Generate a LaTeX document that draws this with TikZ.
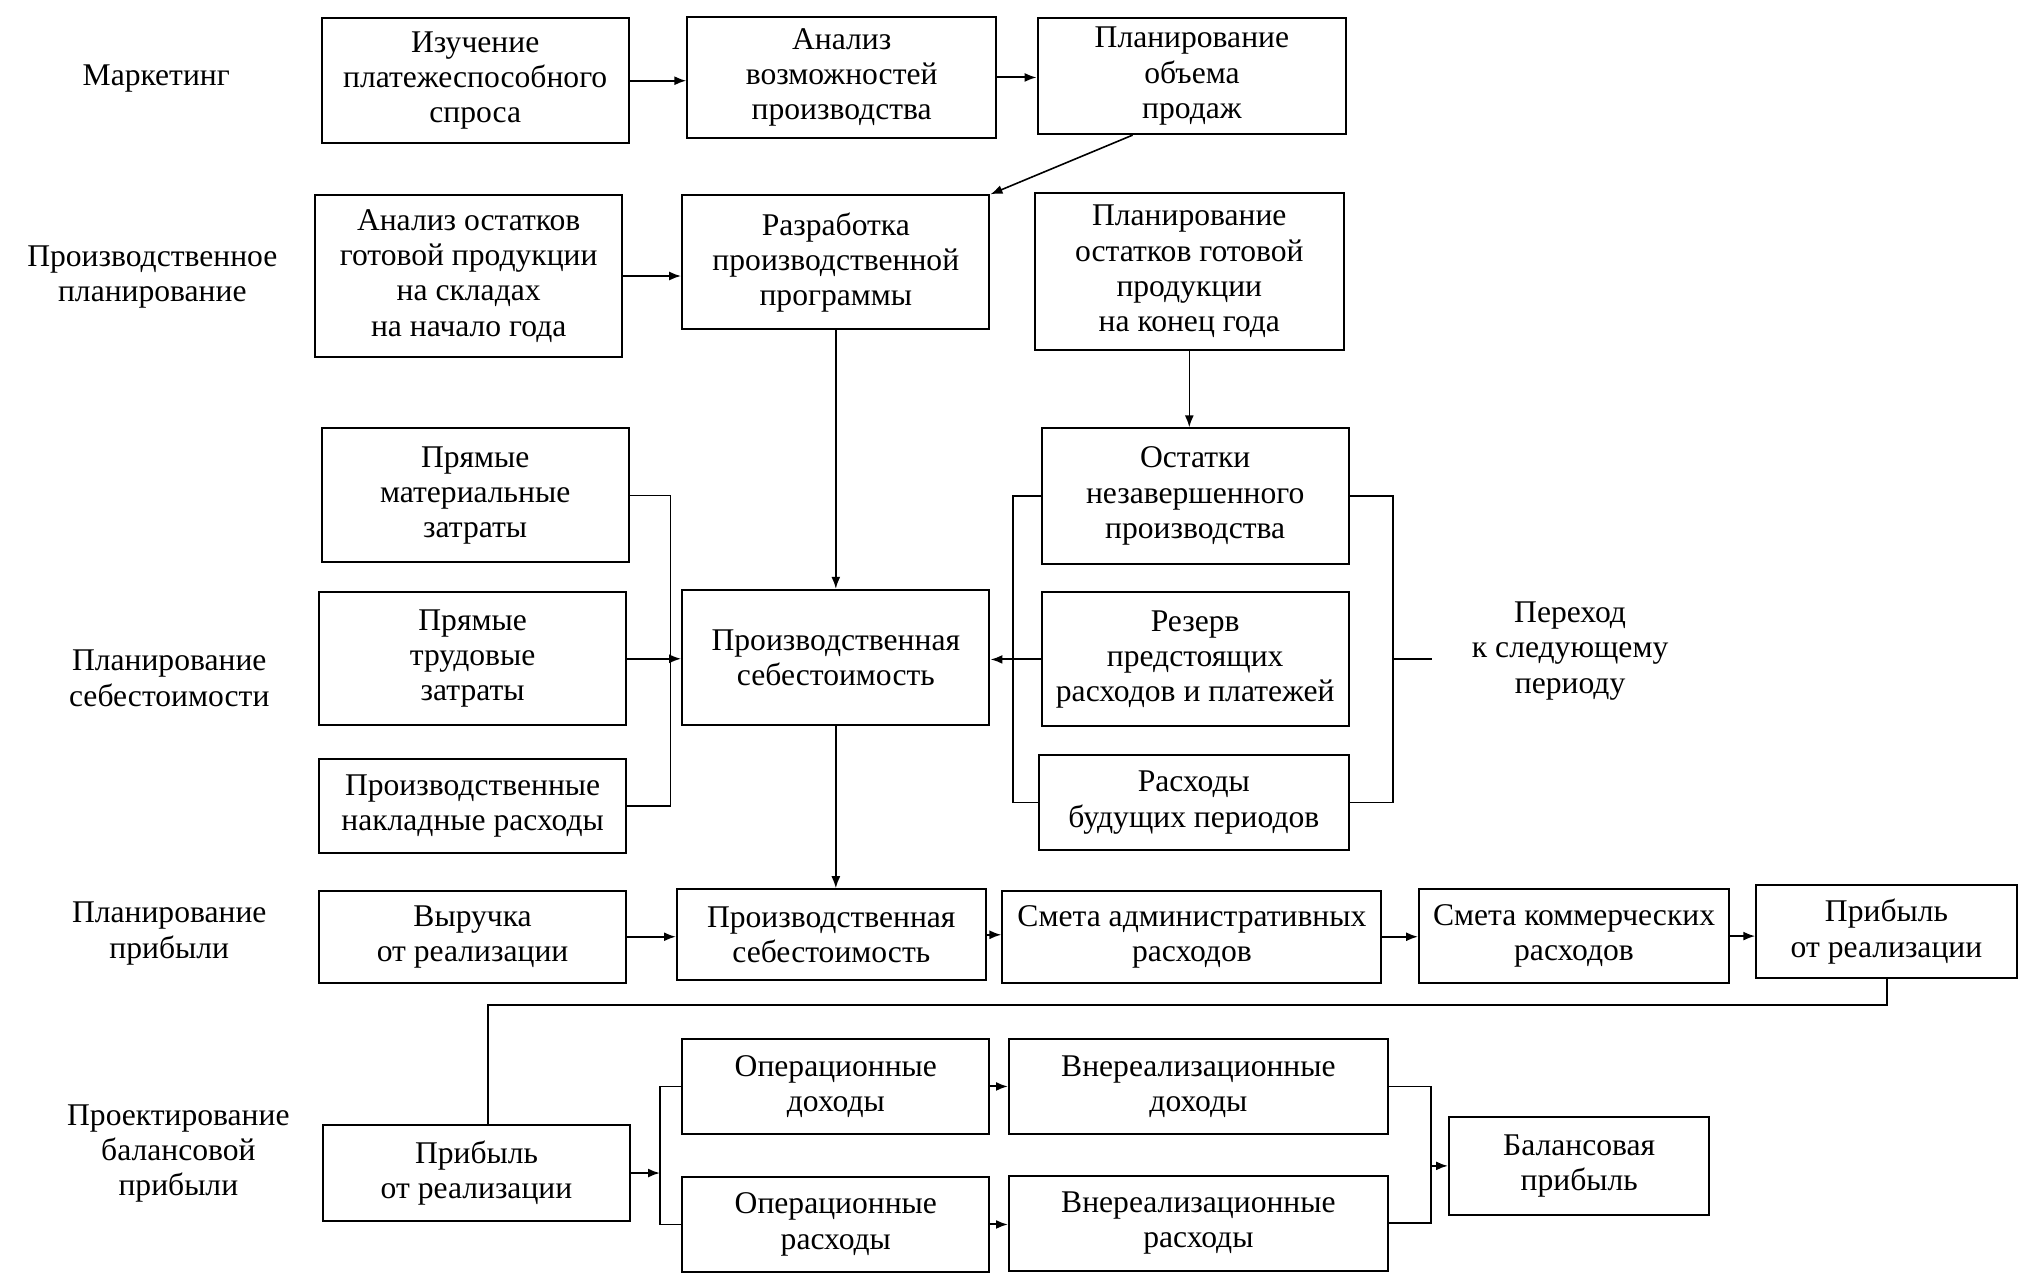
\documentclass[tikz,border=0pt]{standalone}
\usepackage{fontspec}
\setmainfont{Liberation Serif}
\usetikzlibrary{arrows.meta}
\newcommand\unitpx{0.651pt}
\tikzset{
  box/.style={draw, line width=1pt, inner sep=0pt, align=center, font=\fontsize{15.8}{17.6}\selectfont},
  lbl/.style={inner sep=0pt, align=center, font=\fontsize{15.8}{17.6}\selectfont},
  conn/.style={line width=0.8pt},
  arr/.style={line width=1pt, -{Latex[length=6pt,width=4.5pt]}},
}
\newcommand\bx[6]{\node[box, minimum width={(#3-#1)*\unitpx}, minimum height={(#4-#2)*\unitpx}] (#5) at ({(#1+#3)/2},{(#2+#4)/2}) {#6};}
\begin{document}
\begin{tikzpicture}[x=0.651pt, y=-0.651pt]
\useasboundingbox (0,0) rectangle (1560,988.5);
% left labels
\node[lbl] (l1) at (120,60) {Маркетинг};
\node[lbl] (l2) at (117,213) {Производственное\\планирование};
\node[lbl] (l3) at (130,521) {Планирование\\себестоимости};
\node[lbl] (l4) at (130,717) {Планирование\\прибыли};
\node[lbl] (l5) at (137,886) {Проектирование\\балансовой\\прибыли};
% row 1
\bx{247}{14}{483}{110}{A1}{Изучение\\платежеспособного\\спроса}
\bx{528}{13}{765}{106}{A2}{Анализ\\возможностей\\производства}
\bx{797}{14}{1034}{103}{A3}{Планирование\\объема\\продаж}
% row 2
\bx{242}{150}{478}{274}{B1}{Анализ остатков\\готовой продукции\\на складах\\на начало года}
\bx{524}{150}{760}{253}{B2}{Разработка\\производственной\\программы}
\bx{795}{148}{1032}{269}{B3}{Планирование\\остатков готовой\\продукции\\на конец года}
% row 3
\bx{247}{329}{483}{432}{C1}{Прямые\\материальные\\затраты}
\bx{245}{455}{481}{557}{C2}{Прямые\\трудовые\\затраты}
\bx{245}{583}{481}{655}{C3}{Производственные\\накладные расходы}
\bx{524}{453}{760}{557}{Cc}{Производственная\\себестоимость}
\bx{800}{329}{1036}{433}{D1}{Остатки\\незавершенного\\производства}
\bx{800}{455}{1036}{558}{D2}{Резерв\\предстоящих\\расходов и платежей}
\bx{798}{580}{1036}{653}{D3}{Расходы\\будущих периодов}
\node[lbl] (nx) at (1206,500) {Переход\\к следующему\\периоду};
% row 4
\bx{245}{684}{481}{755}{E1}{Выручка\\от реализации}
\bx{520}{683}{757}{753}{E2}{Производственная\\себестоимость}
\bx{770}{684}{1061}{755}{E3}{Смета административных\\расходов}
\bx{1090}{683}{1328}{755}{E4}{Смета коммерческих\\расходов}
\bx{1349}{680}{1549}{751}{E5}{Прибыль\\от реализации}
% row 5
\bx{248}{864}{484}{938}{F1}{Прибыль\\от реализации}
\bx{524}{798}{760}{871}{G1}{Операционные\\доходы}
\bx{524}{904}{760}{977}{G2}{Операционные\\расходы}
\bx{775}{798}{1066}{871}{H1}{Внереализационные\\доходы}
\bx{775}{903}{1066}{976}{H2}{Внереализационные\\расходы}
\bx{1113}{858}{1313}{933}{K}{Балансовая\\прибыль}
% coordinates
\coordinate (p3) at (870,0);
\coordinate (bx1) at (515,0);
\coordinate (bx2) at (778,0);
\coordinate (bx3) at (1070,0);
\coordinate (tk) at (1100,0);
\coordinate (turn) at (375,772);
\coordinate (bx4) at (507,0);
\coordinate (bx5) at (1099,0);
% row 1 connectors
\draw[arr] (A1.east) -- (A1.east -| A2.west);
\draw[arr] (A2.east) -- (A2.east -| A3.west);
\draw[conn, -{Latex[length=6pt,width=4.5pt]}] (A3.south -| p3) -- (B2.north east);
% row 2
\draw[arr] (B1.east) -- (B1.east -| B2.west);
\draw[conn, -{Latex[length=6pt,width=4.5pt]}] (B2.south) -- (Cc.north);
\draw[conn, -{Latex[length=6pt,width=4.5pt]}] (B3.south) -- (B3.south |- D1.north);
% row 3
\draw[conn] (C1.east) -- (C1.east -| bx1) -- (C3.east -| bx1) -- (C3.east);
\draw[arr] (C2.east) -- (C2.east -| Cc.west);
\draw[conn] (D1.west) -- (D1.west -| bx2) -- (D3.west -| bx2) -- (D3.west);
\draw[arr] (D2.west) -- (D2.west -| Cc.east);
\draw[conn] (D1.east) -- (D1.east -| bx3) -- (D3.east -| bx3) -- (D3.east);
\draw[arr, -] (D2.east -| bx3) -- (D2.east -| tk);
\draw[conn, -{Latex[length=6pt,width=4.5pt]}] (Cc.south) -- (Cc.south |- E2.north);
% row 4
\draw[arr] (E1.east) -- (E1.east -| E2.west);
\draw[arr] (E2.east) -- (E2.east -| E3.west);
\draw[arr] (E3.east) -- (E3.east -| E4.west);
\draw[arr] (E4.east) -- (E4.east -| E5.west);
\draw[arr, -] (E5.south) |- (turn) -- (turn |- F1.north);
% row 5
\draw[conn] (G1.west) -- (G1.west -| bx4) -- (G2.west -| bx4) -- (G2.west);
\draw[arr] (F1.east) -- (F1.east -| bx4);
\draw[arr] (G1.east) -- (G1.east -| H1.west);
\draw[arr] (G2.east) -- (G2.east -| H2.west);
\draw[conn] (H1.east) -- (H1.east -| bx5) -- (H2.east -| bx5) -- (H2.east);
\draw[arr] (K.west -| bx5) -- (K.west);
\end{tikzpicture}
\end{document}
